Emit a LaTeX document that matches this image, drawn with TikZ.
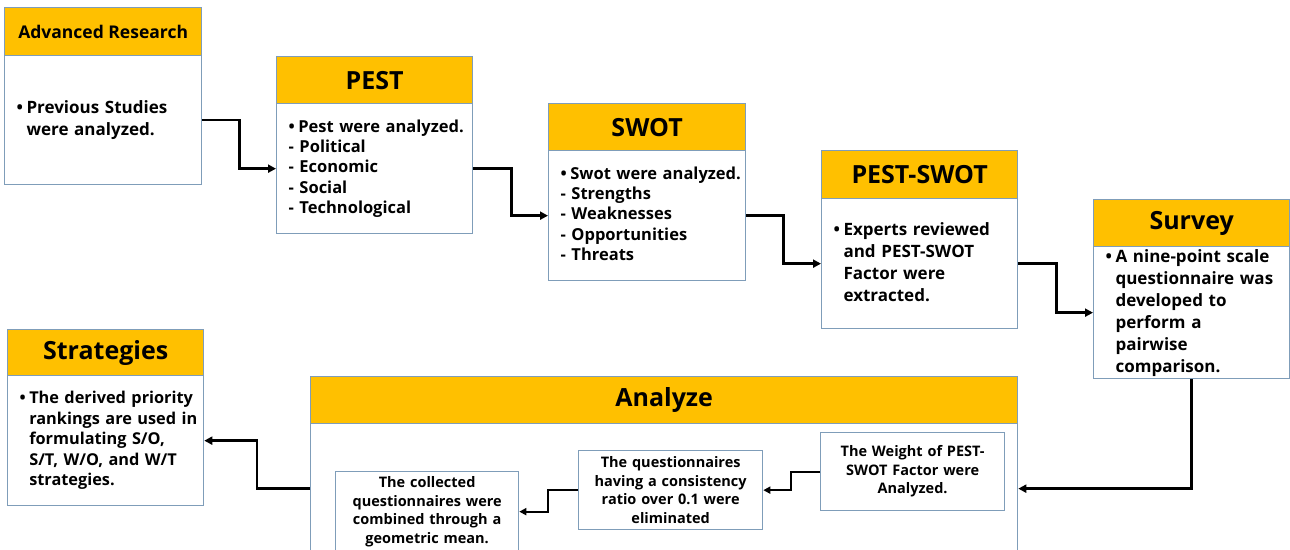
\documentclass[tikz,border=0pt]{standalone}
\usepackage{fontspec}
\setmainfont{Open Sans}
\usetikzlibrary{arrows.meta}
\definecolor{gold}{HTML}{FFC000}
\definecolor{bord}{HTML}{7F9DB9}
\newcommand\bhead{\begin{tabular}{@{}l@{\hspace{3.5pt}}l@{}}}
\newcommand\dl[1]{\multicolumn{2}{@{}l@{}}{-\ #1}}
\begin{document}
\begin{tikzpicture}[x=1pt,y=-1pt,
  hdr/.style={draw=bord,fill=gold,line width=1.3pt,anchor=north west,inner sep=0pt,
    font=\bfseries\fontsize{25}{28}\selectfont},
  bdy/.style={draw=bord,fill=white,line width=1.3pt,anchor=north west,inner xsep=12pt,
    inner ysep=0pt,align=left},
  inb/.style={draw=bord,fill=white,line width=1.3pt,anchor=north west,inner sep=0pt,
    align=center,font=\bfseries\fontsize{14.5}{18.5}\selectfont},
  conn/.style={line width=2.6pt,-{Triangle[length=8pt,width=8pt]}},
  conn2/.style={line width=1.8pt,-{Triangle[length=7pt,width=7pt]}}]
\useasboundingbox (0,0) rectangle (1290,549);

% Advanced Research
\node[hdr,minimum width=197pt,minimum height=48pt,font=\bfseries\fontsize{17.5}{22}\selectfont] (arH) at (4,7) {Advanced Research};
\node[bdy,minimum width=197pt,minimum height=129pt,text width=173pt,font=\bfseries\fontsize{17}{22}\selectfont] (arB) at (4,55)
 {\bhead\textbullet & Previous Studies\\ & were analyzed.\end{tabular}};

% PEST
\node[hdr,minimum width=196pt,minimum height=47pt] (pestH) at (276,56) {PEST};
\node[bdy,minimum width=196pt,minimum height=130pt,text width=172pt,font=\bfseries\fontsize{16.5}{20.3}\selectfont] (pestB) at (276,103)
 {\bhead\textbullet & Pest were analyzed.\\ \dl{Political}\\ \dl{Economic}\\ \dl{Social}\\ \dl{Technological}\end{tabular}};

% SWOT
\node[hdr,minimum width=197pt,minimum height=47pt] (swotH) at (548,103) {SWOT};
\node[bdy,minimum width=197pt,minimum height=130pt,text width=173pt,font=\bfseries\fontsize{16.5}{20.3}\selectfont] (swotB) at (548,150)
 {\bhead\textbullet & Swot were analyzed.\\ \dl{Strengths}\\ \dl{Weaknesses}\\ \dl{Opportunities}\\ \dl{Threats}\end{tabular}};

% PEST-SWOT
\node[hdr,minimum width=196pt,minimum height=48pt] (psH) at (821,150) {PEST-SWOT};
\node[bdy,minimum width=196pt,minimum height=130pt,text width=172pt,font=\bfseries\fontsize{17}{22}\selectfont] (psB) at (821,198)
 {\bhead\textbullet & Experts reviewed\\ & and PEST-SWOT\\ & Factor were\\ & extracted.\end{tabular}};

% Survey
\node[hdr,minimum width=196pt,minimum height=47pt] (survH) at (1093,199) {Survey};
\node[bdy,minimum width=196pt,minimum height=129pt,text width=172pt,font=\bfseries\fontsize{17}{22}\selectfont] (survB) at (1093,246)
 {\bhead\textbullet & A nine-point scale\\ & questionnaire was\\ & developed to\\ & perform a\\ & pairwise\\ & comparison.\end{tabular}};

% Strategies
\node[hdr,minimum width=196pt,minimum height=46pt] (stratH) at (7,329) {Strategies};
\node[bdy,minimum width=196pt,minimum height=130pt,text width=172pt,font=\bfseries\fontsize{16.3}{20.5}\selectfont] (stratB) at (7,375)
 {\bhead\textbullet & The derived priority\\ & rankings are used in\\ & formulating S/O,\\ & S/T, W/O, and W/T\\ & strategies.\end{tabular}};

% Analyze
\node[hdr,minimum width=707pt,minimum height=47pt] (anaH) at (310,376) {Analyze};
\node[bdy,minimum width=707pt,minimum height=130pt] (anaB) at (310,423) {};

\node[inb,minimum width=184pt,minimum height=78pt,text width=176pt] (wgt) at (820,432)
 {The Weight of PEST-\\SWOT Factor were\\Analyzed.};
\node[inb,minimum width=184pt,minimum height=79pt,text width=176pt] (qst) at (578,450)
 {The questionnaires\\having a consistency\\ratio over 0.1 were\\eliminated};
\node[inb,minimum width=183pt,minimum height=80pt,text width=176pt] (col) at (335,471)
 {The collected\\questionnaires were\\combined through a\\geometric mean.};

% connectors
\draw[conn] (arB.east) -- ++(37,0) |- (pestB.west);
\draw[conn] (pestB.east) -- ++(38,0) |- (swotB.west);
\draw[conn] (swotB.east) -- ++(37,0) |- (psB.west);
\draw[conn] (psB.east) -- ++(38,0) |- (survB.west);
\draw[conn] (survB.south) |- (anaB.east);
\draw[conn] (anaB.west) -- ++(-53,0) |- (stratB.east);
\draw[conn2] (wgt.west) -- ++(-29,0) |- (qst.east);
\draw[conn2] (qst.west) -- ++(-30,0) |- (col.east);
\end{tikzpicture}
\end{document}
